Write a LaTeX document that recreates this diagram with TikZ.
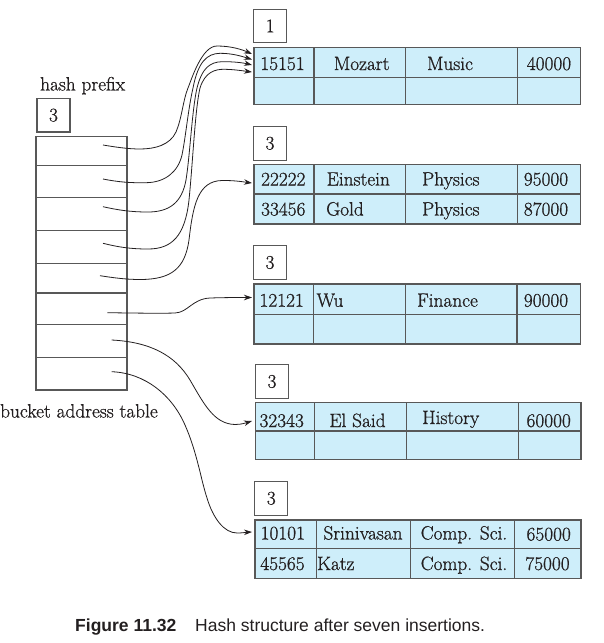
\documentclass[tikz,border=0pt]{standalone}
\usepackage{fontspec}
\newfontfamily\capfont{Liberation Sans}
\newfontfamily\cellfont{Latin Modern Roman}[FakeBold=0.9]
\usetikzlibrary{arrows.meta}
\definecolor{cellblue}{RGB}{206,238,250}
\definecolor{edgegray}{RGB}{88,88,88}
\definecolor{inkcol}{RGB}{35,31,32}
\newcommand\fs{\cellfont\fontsize{19.3}{22}\selectfont}
\newcommand\capfs{\fontsize{17.5}{21}\selectfont}
\tikzset{
  cellfill/.style={fill=cellblue, draw=edgegray, line width=1.1pt},
  gridln/.style={draw=edgegray, line width=1.1pt},
  lbl/.style={draw=edgegray, line width=1.1pt, minimum width=33pt, minimum height=33.5pt, inner sep=0pt, font=\fs, text=inkcol},
  txt/.style={anchor=base, inner sep=0pt, font=\fs, text=inkcol},
  arr/.style={draw=inkcol, line width=0.8pt, -{Stealth[length=8pt,width=5.5pt]}}
}
\begin{document}
\begin{tikzpicture}[x=1pt,y=-1pt]
\useasboundingbox (0,0) rectangle (603,643);

% ---------- bucket address table ----------
\node[txt, anchor=base west] (hp) at (40,90.5) {hash prefix};
\node[lbl] (hpbox) at (53.5,115.2) {3};
\filldraw[fill=white, draw=edgegray, line width=1.1pt] (36,136.7) rectangle (127,390);
\draw[gridln] (36,165.7) -- (127,165.7) (36,197.3) -- (127,197.3)
  (36,230.7) -- (127,230.7) (36,263.3) -- (127,263.3) (36,293) -- (127,293)
  (36,324.3) -- (127,324.3) (36,357.3) -- (127,357.3);
\node[txt, anchor=base west] (bat) at (0,417.5) {bucket address table};

\coordinate (s1) at (103,145);
\coordinate (s2) at (103,179);
\coordinate (s3) at (103,206.7);
\coordinate (s4) at (103,243.3);
\coordinate (s5) at (100,275.7);
\coordinate (s6) at (107.3,312.7);
\coordinate (s7) at (111.7,340);
\coordinate (s8) at (111.7,371.7);

% ---------- bucket 1 ----------
\node[lbl] (L1) at (270.2,26) {1};
\filldraw[cellfill] (254,47.7) rectangle (580.3,104.3);
\draw[gridln] (254,77.7) -- (580.3,77.7) (314,47.7) -- (314,104.3)
  (405.3,47.7) -- (405.3,104.3) (517.7,47.7) -- (517.7,104.3);
\node[txt] (b1a) at (282.5,70) {15151};
\node[txt] (b1b) at (361.7,70) {Mozart};
\node[txt] (b1c) at (450,70) {Music};
\node[txt] (b1d) at (549,70) {40000};

% ---------- bucket 2 ----------
\node[lbl] (L2) at (270,143.3) {3};
\filldraw[cellfill] (254,164.3) rectangle (580.3,224);
\draw[gridln] (254,194) -- (580.3,194) (314,164.3) -- (314,224)
  (405.3,164.3) -- (405.3,224) (517.3,164.3) -- (517.3,224);
\node[txt] (b2a) at (283.3,185.5) {22222};
\node[txt] (b2b) at (358.3,185.5) {Einstein};
\node[txt] (b2c) at (450.8,185.5) {Physics};
\node[txt] (b2d) at (546,185.5) {95000};
\node[txt] (b2e) at (283.3,215.5) {33456};
\node[txt] (b2f) at (345,215.5) {Gold};
\node[txt] (b2g) at (450.8,215.5) {Physics};
\node[txt] (b2h) at (546,215.5) {87000};

% ---------- bucket 3 ----------
\node[lbl] (L3) at (270,262.5) {3};
\filldraw[cellfill] (254,284) rectangle (580.3,344);
\draw[gridln] (254,314.7) -- (580.3,314.7) (313.3,284) -- (313.3,344)
  (405.7,284) -- (405.7,344) (517,284) -- (517,344);
\node[txt] (b3a) at (281.7,306.7) {12121};
\node[txt] (b3b) at (330,306.7) {Wu};
\node[txt] (b3c) at (447.5,306.7) {Finance};
\node[txt] (b3d) at (546,306.7) {90000};

% ---------- bucket 4 ----------
\node[lbl] (L4) at (272,381.5) {3};
\filldraw[cellfill] (255.7,402.7) rectangle (581,459.3);
\draw[gridln] (255.7,431) -- (581,431) (314.3,402.7) -- (314.3,459.3)
  (406.3,402.7) -- (406.3,459.3) (518.3,402.7) -- (518.3,459.3);
\node[txt] (b4a) at (281.7,427) {32343};
\node[txt] (b4b) at (357.5,427) {El Said};
\node[txt] (b4c) at (450.8,424) {History};
\node[txt] (b4d) at (548.7,427) {60000};

% ---------- bucket 5 ----------
\node[lbl] (L5) at (271.3,498.3) {3};
\filldraw[cellfill] (255,520) rectangle (581,578.3);
\draw[gridln] (255,548.3) -- (581,548.3) (316.7,520) -- (316.7,578.3)
  (410.3,520) -- (410.3,578.3) (514.3,520) -- (514.3,578.3);
\node[txt] (b5a) at (282.8,539.5) {10101};
\node[txt] (b5b) at (363,539.5) {Srinivasan};
\node[txt] (b5c) at (464,539.5) {Comp. Sci.};
\node[txt] (b5d) at (548.7,540.5) {65000};
\node[txt] (b5e) at (282.5,570) {45565};
\node[txt] (b5f) at (335.8,570) {Katz};
\node[txt] (b5g) at (464,570) {Comp. Sci.};
\node[txt] (b5h) at (547.5,570) {75000};

% ---------- arrow targets ----------
\coordinate (t1a) at (252,54);
\coordinate (t1b) at (252,59.5);
\coordinate (t1c) at (252,65);
\coordinate (t1d) at (252,72);
\coordinate (t2) at (252,183);
\coordinate (t3) at (252,297.5);
\coordinate (t4) at (252,421);
\coordinate (t5) at (252,532);

% ---------- arrows ----------
\draw[arr] (s1) .. controls (115,147) and (128,149) .. (140,149)
  .. controls (155,149) and (170,145) .. (176,132)
  .. controls (182,118) and (183,100) .. (188,88)
  .. controls (192,78) and (202,46) .. (217,46)
  .. controls (232,46) and (243,50) .. (t1a);
\draw[arr] (s2) .. controls (118,182) and (130,183) .. (146,182.7)
  .. controls (165,182.5) and (178,172) .. (182,155)
  .. controls (186,135) and (188,110) .. (193,88)
  .. controls (198,62) and (207,53.5) .. (220,53.3)
  .. controls (233,53.2) and (244,57) .. (t1b);
\draw[arr] (s3) .. controls (118,210) and (130,212) .. (148,212)
  .. controls (170,212) and (182,202) .. (186,180)
  .. controls (190,155) and (192,110) .. (197,88)
  .. controls (202,68) and (210,62) .. (222,61.7)
  .. controls (234,61.5) and (244,63) .. (t1c);
\draw[arr] (s4) .. controls (118,247) and (130,249) .. (148,249)
  .. controls (172,249) and (185,236) .. (189,200)
  .. controls (193,160) and (195,110) .. (200,88)
  .. controls (205,72) and (215,69) .. (225,69.3)
  .. controls (235,69.5) and (244,71) .. (t1d);
\draw[arr] (s5) .. controls (112,277.5) and (125,279.5) .. (140,279.5)
  .. controls (172,279.5) and (185,268) .. (189,240)
  .. controls (193,205) and (198,181) .. (222,180.5)
  .. controls (235,180.3) and (244,182) .. (t2);
\draw[arr] (s6) .. controls (130,313) and (160,313.5) .. (175,313)
  .. controls (188,312.5) and (192,299) .. (210,298)
  .. controls (225,297.5) and (238,297.5) .. (t3);
\draw[arr] (s7) .. controls (150,342) and (175,355) .. (190,380)
  .. controls (204,404) and (214,424) .. (235,424.5)
  .. controls (242,424.5) and (247,422.5) .. (t4);
\draw[arr] (s8) .. controls (145,373) and (172,395) .. (185,425)
  .. controls (197,452) and (201,480) .. (207,498)
  .. controls (213,518) and (224,533) .. (237,533)
  .. controls (243,533) and (247,532.2) .. (t5);

% ---------- caption ----------
\node[anchor=base west, inner sep=0pt, font=\capfont\capfs\bfseries, text=inkcol] (capA) at (75,631) {Figure 11.32};
\node[anchor=base west, inner sep=0pt, font=\capfont\capfs, text=inkcol] (capB) at (195,631) {Hash structure after seven insertions.};
\end{tikzpicture}
\end{document}
